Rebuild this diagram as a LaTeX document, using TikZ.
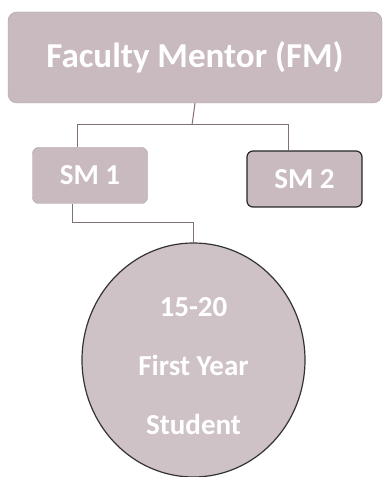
\documentclass[tikz,border=0pt]{standalone}
\usepackage{fontspec}
\setmainfont{Carlito}
\usetikzlibrary{positioning,shapes.geometric}
\definecolor{boxfill}{RGB}{200,186,190}
\definecolor{ballfill}{RGB}{206,194,198}
\definecolor{linkgray}{RGB}{130,112,118}
\tikzset{
  mentor/.style={rectangle,rounded corners=9pt,fill=boxfill,draw=boxfill!85!black,
                 minimum width=374pt,minimum height=91pt,text=white,
                 font=\bfseries\fontsize{35}{38}\selectfont},
  sment/.style={rectangle,rounded corners=6pt,fill=boxfill,draw=boxfill!85!black,
                minimum width=115pt,minimum height=56pt,text=white,
                font=\bfseries\fontsize{29}{30}\selectfont},
  group/.style={ellipse,fill=ballfill,draw=black!80,line width=1.2pt,
                minimum width=223pt,minimum height=234pt,inner sep=0pt},
  grouptext/.style={text=white,align=center,font=\bfseries\fontsize{29}{59}\selectfont},
  link/.style={draw=linkgray,line width=1pt},
}
\begin{document}
\begin{tikzpicture}[x=1pt,y=1pt]
  \useasboundingbox (0,0) rectangle (385,477);
  % ---- mentors ----
  \node[mentor] (fm) at (195,419.5) {Faculty Mentor (FM)};
  \node[sment] (sm1) at (90,301.5) {SM 1};
  \node[sment,draw=black!85,line width=1.2pt] (sm2) at (304.5,298) {SM 2};
  % ---- students ----
  \node[group] (fy) at (193.5,117) {};
  \node[grouptext] (fytxt) at ([yshift=-6pt]fy.center) {15-20\\First Year\\Student};
  % ---- links ----
  \coordinate (fmbus) at (192,352);
  \coordinate (smbus) at (72,254);
  \draw[link] (fm.south) -- (fmbus);
  \draw[link] (fmbus) -| ([xshift=-13pt]sm1.north);
  \draw[link] (fmbus) -| ([xshift=-16pt]sm2.north);
  \draw[link] ([xshift=-18pt]sm1.south) -- (smbus) -| (fy.north);
\end{tikzpicture}
\end{document}
